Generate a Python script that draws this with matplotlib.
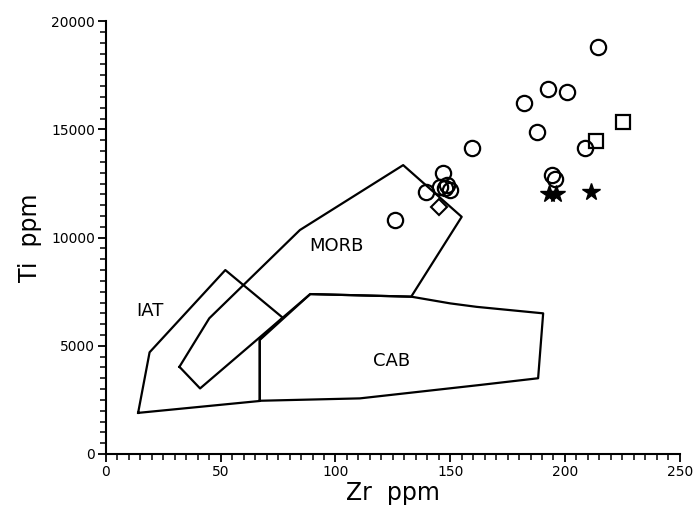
import matplotlib
matplotlib.use("Agg")
import matplotlib.pyplot as plt
from matplotlib.ticker import MultipleLocator

# field outlines (Zr ppm, Ti ppm)
iat_zr = [14, 19, 52, 77, 67, 67]
iat_ti = [1900, 4700, 8500, 6300, 5300, 2450]

morb_zr = [32, 45, 84.5, 129.5, 155, 133, 89, 41]
morb_ti = [4030, 6270, 10350, 13350, 10960, 7270, 7390, 3030]

cab_zr = [67, 67, 89, 133, 150, 161.5, 190.5, 188.3, 163, 110.6]
cab_ti = [2460, 5270, 7390, 7270, 6960, 6800, 6500, 3500, 3190, 2570]

# samples
circ_zr = [214.4, 192.4, 201.1, 182.2, 187.6, 208.6, 159.7, 146.9, 194.5, 195.6,
           139.4, 145.5, 147.6, 149.8, 148.4, 125.9]
circ_ti = [18810, 16860, 16730, 16230, 14890, 14150, 14120, 12970, 12890, 12730,
           12120, 12350, 12270, 12190, 12430, 10810]
sq_zr = [225.3, 213.7]
sq_ti = [15350, 14470]
star_zr = [193, 196, 211.5]
star_ti = [12000, 12000, 12100]
dia_zr = [145.2]
dia_ti = [11420]

field_names = ["IAT", "MORB", "CAB"]
label_zr = [19.2, 100.5, 124.4]
label_ti = [6620, 9600, 4310]

plt.rcParams['font.family'] = ['DejaVu Sans']

fig = plt.figure(figsize=(6.95, 5.05), dpi=100)
ax = fig.add_axes([0.1525, 0.101, 0.8255, 0.857])

lw = 1.6
for zr, ti in [(iat_zr, iat_ti), (morb_zr, morb_ti), (cab_zr, cab_ti)]:
    ax.plot(zr + zr[:1], ti + ti[:1], c='k', lw=lw)

for name, x, y in zip(field_names, label_zr, label_ti):
    ax.text(x, y, name, fontsize=13, ha='center', va='center')

ax.plot(circ_zr, circ_ti, 'o', mfc='none', mec='k', ms=11, mew=1.6)
ax.plot(sq_zr, sq_ti, 's', mfc='none', mec='k', ms=9.5, mew=1.6)
ax.plot(star_zr, star_ti, '*', c='k', ms=13)
ax.plot(dia_zr, dia_ti, 'D', mfc='none', mec='k', ms=8, mew=1.5)

ax.set_xlim(0, 250)
ax.set_ylim(0, 20000)
ax.xaxis.set_major_locator(MultipleLocator(50))
ax.xaxis.set_minor_locator(MultipleLocator(5))
ax.yaxis.set_major_locator(MultipleLocator(5000))
ax.yaxis.set_minor_locator(MultipleLocator(500))
ax.tick_params(which='major', length=6, width=1.3, labelsize=10, pad=2)
ax.tick_params(which='minor', length=4, width=1.1)

for s in ['top', 'right']:
    ax.spines[s].set_visible(False)
for s in ['left', 'bottom']:
    ax.spines[s].set_linewidth(1.5)

ax.set_xlabel("Zr  ppm", fontsize=17)
ax.set_ylabel("Ti  ppm", fontsize=17)
ax.xaxis.set_label_coords(0.5, -0.063)
ax.yaxis.set_label_coords(-0.112, 0.5)

fig.savefig("out.png", dpi=100)
